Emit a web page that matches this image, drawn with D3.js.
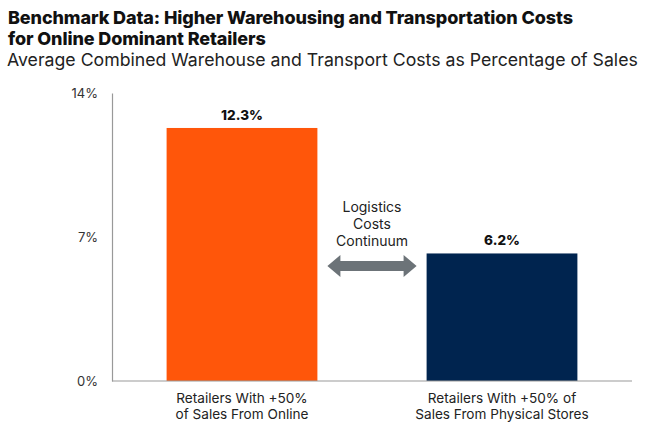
<!DOCTYPE html>
<html>
<head>
<meta charset="utf-8">
<script src="https://cdn.jsdelivr.net/npm/d3@7"></script>
<style>
  body { margin: 0; background: #fff; }
  text { font-family: Inter, "Noto Sans", sans-serif; fill: #111; }
</style>
</head>
<body>
<svg id="chart" width="650" height="427"></svg>
<script>
let categories = [
  ["Retailers With +50%", "of Sales From Online"],
  ["Retailers With +50% of", "Sales From Physical Stores"]
];
let values = [12.3, 6.2];
let barColors = ["#ff560a", "#00244f"];
let tickValues = [0, 7, 14];
let titleLines = ["Benchmark Data: Higher Warehousing and Transportation Costs", "for Online Dominant Retailers"];
let subtitle = "Average Combined Warehouse and Transport Costs as Percentage of Sales";
let arrowLabel = ["Logistics", "Costs", "Continuum"];

let margin = {top: 93, right: 18, bottom: 46, left: 112};
let width = 650, height = 427;

let svg = d3.select("#chart");

// titles
svg.selectAll(".title")
  .data(titleLines)
  .enter().append("text")
  .attr("class", "title")
  .attr("x", 8)
  .attr("y", (d, i) => 24 + i * 21)
  .style("font-size", "18px")
  .style("font-weight", 800)
  .style("letter-spacing", "-0.1px")
  .text(d => d);

svg.append("text")
  .attr("x", 7)
  .attr("y", 66)
  .style("font-size", "17.7px")
  .style("fill", "#222")
  .text(subtitle);

let x = d3.scaleBand()
  .domain(d3.range(values.length))
  .range([margin.left, width - margin.right])
  .paddingInner(0.42)
  .paddingOuter(0.21);

let y = d3.scaleLinear()
  .domain([0, 14])
  .range([height - margin.bottom, margin.top]);

// y axis
let yAxis = svg.append("g")
  .attr("transform", `translate(${margin.left},0)`)
  .call(d3.axisLeft(y).tickValues(tickValues).tickSize(0).tickPadding(14).tickFormat(d => d + "%"));
yAxis.select(".domain").attr("stroke", "#999").attr("stroke-width", 1.2);
yAxis.selectAll("text").style("font-size", "13px").style("fill", "#333");

// bars
svg.selectAll(".bar")
  .data(values)
  .enter().append("rect")
  .attr("class", "bar")
  .attr("x", (d, i) => x(i))
  .attr("width", x.bandwidth())
  .attr("y", d => y(d))
  .attr("height", d => y(0) - y(d))
  .attr("fill", (d, i) => barColors[i]);

// baseline
svg.append("line")
  .attr("x1", margin.left)
  .attr("x2", width - margin.right)
  .attr("y1", y(0))
  .attr("y2", y(0))
  .attr("stroke", "#999")
  .attr("stroke-width", 1.2);

// value labels
svg.selectAll(".val")
  .data(values)
  .enter().append("text")
  .attr("class", "val")
  .attr("x", (d, i) => x(i) + x.bandwidth() / 2)
  .attr("y", d => y(d) - 8)
  .attr("text-anchor", "middle")
  .style("font-size", "13.5px")
  .style("font-weight", 800)
  .text(d => d.toFixed(1) + "%");

// category labels
categories.forEach((lines, i) => {
  svg.append("text")
    .attr("x", x(i) + x.bandwidth() / 2)
    .attr("y", y(0) + 22)
    .attr("text-anchor", "middle")
    .style("font-size", "13.6px")
    .style("fill", "#222")
    .selectAll("tspan")
    .data(lines)
    .enter().append("tspan")
    .attr("x", x(i) + x.bandwidth() / 2)
    .attr("dy", (d, j) => j === 0 ? 0 : 16)
    .text(d => d);
});

// double arrow between bars
let ax0 = x(0) + x.bandwidth() + 10, ax1 = x(1) - 10;
let acx = (ax0 + ax1) / 2;
let ay = 266, shaft = 5, head = 11, headLen = 13;
svg.append("path")
  .attr("d", `M${ax0},${ay} L${ax0 + headLen},${ay - head} L${ax0 + headLen},${ay - shaft}
              L${ax1 - headLen},${ay - shaft} L${ax1 - headLen},${ay - head} L${ax1},${ay}
              L${ax1 - headLen},${ay + head} L${ax1 - headLen},${ay + shaft}
              L${ax0 + headLen},${ay + shaft} L${ax0 + headLen},${ay + head} Z`)
  .attr("fill", "#6c7378");

svg.append("text")
  .attr("text-anchor", "middle")
  .style("font-size", "14px")
  .style("fill", "#222")
  .selectAll("tspan")
  .data(arrowLabel)
  .enter().append("tspan")
  .attr("x", acx)
  .attr("y", (d, j) => 212 + j * 17)
  .text(d => d);
</script>
</body>
</html>
